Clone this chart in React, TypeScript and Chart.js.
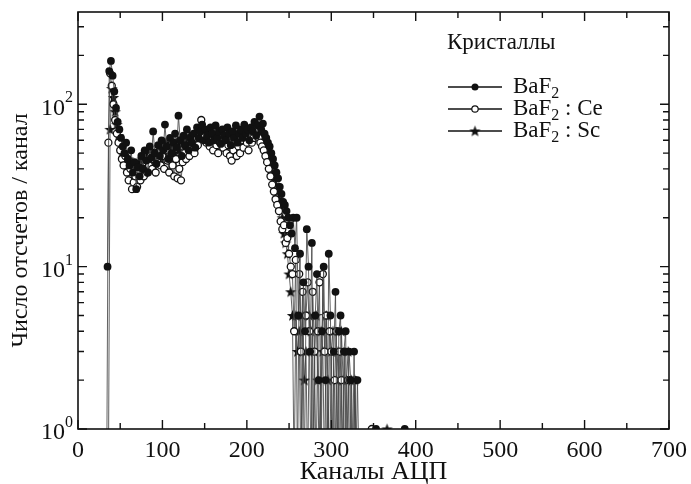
import React, { useEffect, useRef } from "react";
import { Chart, registerables } from "chart.js";

Chart.register(...registerables);

// ---- data ----
const legendTitle = "Кристаллы";
const xTitle = "Каналы АЦП";
const yTitle = "Число отсчетов / канал";
const seriesBase = ["BaF", "BaF", "BaF"];
const seriesSuffix = ["", " : Ce", " : Sc"];
const startChannel = [35, 34, 36];
const channelStep = 2;
const xTickValues = [0, 100, 200, 300, 400, 500, 600, 700];
const yDecades = [1, 10, 100];
const xMin = 0;
const xMax = 700;
const yMin = 1;
const yMax = 370;
const zeroFloor = 0.5; // zero counts are drawn below the axis (clipped)

const bafValues = [
  10, 160, 185, 150, 120, 95, 78, 70, 62, 55,
  50, 58, 46, 42, 52, 38, 44, 30, 41, 36,
  48, 40, 52, 45, 38, 55, 47, 68, 50, 43,
  56, 48, 60, 52, 75, 55, 46, 62, 50, 58,
  66, 54, 85, 60, 48, 64, 56, 70, 52, 62,
  58, 66, 54, 72, 62, 68, 75, 60, 70, 64,
  58, 72, 66, 60, 74, 62, 68, 57, 70, 64,
  60, 72, 66, 56, 68, 62, 74, 58, 66, 70,
  62, 75, 66, 70, 60, 72, 68, 78, 64, 74,
  84, 70, 76, 66, 62, 58, 55, 50, 46, 42,
  38, 35, 31, 28, 25, 24, 22, 20, 18, 16,
  20, 13, 20, 5, 12, 0, 8, 4, 17, 10,
  3, 14, 0, 5, 9, 2, 0, 4, 10, 2,
  0, 12, 5, 0, 3, 7, 0, 4, 5, 0,
  3, 4, 0, 3, 2, 0, 3, 0, 2, 0,
  0, 0, 0, 0, 0, 0, 0, 0, 0, 1,
  0, 0, 0, 0, 0, 0, 0, 0, 0, 0,
  0, 0, 0, 0, 0, 0, 1, 0, 0, 0,
];

const ceValues = [
  0, 58, 155, 130, 100, 80, 66, 58, 52, 46,
  42, 48, 38, 34, 40, 30, 33, 36, 31, 38,
  34, 40, 36, 44, 38, 42, 48, 40, 46, 38,
  44, 50, 42, 48, 40, 52, 45, 38, 48, 42,
  36, 46, 35, 40, 34, 44, 50, 46, 55, 48,
  52, 58, 50, 62, 56, 66, 80, 70, 64, 58,
  62, 55, 66, 52, 60, 56, 50, 58, 62, 54,
  60, 50, 56, 48, 45, 52, 58, 48, 55, 50,
  60, 54, 62, 58, 52, 66, 58, 62, 70, 64,
  62, 58, 55, 52, 48, 44, 40, 36, 32, 29,
  26, 24, 22, 19, 17, 18, 14, 15, 12, 10,
  9, 4, 11, 0, 9, 3, 7, 0, 5, 8,
  4, 0, 7, 3, 0, 4, 8, 0, 9, 3,
  5, 0, 4, 3, 0, 2, 4, 0, 3, 2,
  0, 3, 0, 2, 2, 0, 0, 2, 0, 0,
  0, 0, 0, 0, 0, 0, 0, 1, 0, 0,
  0, 0, 0, 0, 0, 0, 0, 0, 0, 0,
  0, 0, 0, 0, 0, 0, 0, 0, 0, 0,
];

const scValues = [
  0, 70, 125, 110, 90, 75, 64, 56, 50, 46,
  44, 40, 46, 38, 42, 35, 40, 37, 44, 41,
  46, 42, 50, 44, 48, 52, 45, 50, 44, 48,
  52, 46, 55, 50, 58, 48, 53, 46, 56, 50,
  54, 60, 52, 57, 62, 55, 60, 54, 64, 58,
  62, 57, 66, 60, 64, 70, 62, 68, 60, 65,
  58, 64, 60, 66, 56, 62, 58, 64, 60, 55,
  62, 58, 64, 56, 60, 66, 58, 63, 68, 60,
  66, 62, 70, 64, 68, 62, 72, 66, 74, 70,
  68, 64, 60, 55, 52, 46, 42, 38, 35, 32,
  29, 26, 23, 20, 16, 14, 12, 9, 7, 5,
  0, 5, 3, 4, 0, 5, 2, 3, 0, 5,
  4, 0, 3, 5, 2, 0, 4, 3, 0, 5,
  2, 0, 3, 4, 0, 2, 3, 0, 4, 2,
  0, 2, 3, 0, 2, 0, 2, 0, 0, 0,
  0, 0, 0, 0, 0, 0, 0, 0, 0, 0,
  0, 0, 0, 0, 0, 1, 0, 0, 0, 0,
  0, 0, 0, 0, 0, 0, 0, 0, 0, 0,
];

const allValues = [bafValues, ceValues, scValues];

const SERIF = '"Liberation Serif", "Times New Roman", serif';

function makeStar(): HTMLCanvasElement {
  const c = document.createElement("canvas");
  c.width = 13;
  c.height = 13;
  const g = c.getContext("2d")!;
  g.fillStyle = "#111";
  g.beginPath();
  const cx = 6.5, cy = 6.9, R = 6, r = 2.5;
  for (let k = 0; k < 10; k++) {
    const rad = k % 2 === 0 ? R : r;
    const a = -Math.PI / 2 + (k * Math.PI) / 5;
    const px = cx + rad * Math.cos(a);
    const py = cy + rad * Math.sin(a);
    if (k === 0) g.moveTo(px, py);
    else g.lineTo(px, py);
  }
  g.closePath();
  g.fill();
  return c;
}

function drawMarker(ctx: CanvasRenderingContext2D, idx: number, x: number, y: number, star: HTMLCanvasElement) {
  ctx.save();
  if (idx === 0) {
    ctx.fillStyle = "#111";
    ctx.beginPath();
    ctx.arc(x, y, 3.5, 0, Math.PI * 2);
    ctx.fill();
  } else if (idx === 1) {
    ctx.fillStyle = "#fff";
    ctx.strokeStyle = "#111";
    ctx.lineWidth = 1.2;
    ctx.beginPath();
    ctx.arc(x, y, 3.2, 0, Math.PI * 2);
    ctx.fill();
    ctx.stroke();
  } else {
    ctx.drawImage(star, x - star.width / 2, y - star.height / 2);
  }
  ctx.restore();
}

export default function App() {
  const ref = useRef<HTMLCanvasElement | null>(null);

  useEffect(() => {
    if (!ref.current) return;
    const star = makeStar();

    const datasets = allValues.map((vals, si) => ({
      label: seriesBase[si] + "2" + seriesSuffix[si],
      data: vals.map((v, i) => ({ x: startChannel[si] + i * channelStep, y: v > 0 ? v : zeroFloor })),
      borderColor: "rgba(70,70,70,0.85)",
      borderWidth: 1,
      fill: false,
      tension: 0,
      clip: { left: 6, top: 6, right: 6, bottom: 0 },
      order: si === 0 ? 0 : si === 1 ? 1 : 2,
      pointStyle: si === 2 ? star : "circle",
      pointRadius: (c: any) => (c.raw && c.raw.y >= 1 ? (si === 1 ? 3.5 : 3.9) : 0),
      pointBackgroundColor: si === 1 ? "#ffffff" : "#111111",
      pointBorderColor: "#111111",
      pointBorderWidth: si === 1 ? 1.3 : 0,
    }));

    const framePlugin = {
      id: "frame",
      afterDraw(chart: any) {
        const ctx: CanvasRenderingContext2D = chart.ctx;
        const { left, right, top, bottom } = chart.chartArea;
        const xs = chart.scales.x;
        const ys = chart.scales.y;
        ctx.save();
        ctx.strokeStyle = "#111";
        ctx.lineWidth = 1.6;
        ctx.strokeRect(left, top, right - left, bottom - top);

        // x ticks
        ctx.lineWidth = 1.4;
        for (let v = xMin; v <= xMax; v += 50) {
          const px = xs.getPixelForValue(v);
          const len = v % 100 === 0 ? 9 : 6;
          ctx.beginPath();
          ctx.moveTo(px, bottom);
          ctx.lineTo(px, bottom - len);
          ctx.moveTo(px, top);
          ctx.lineTo(px, top + len);
          ctx.stroke();
        }
        // y ticks
        for (const d of yDecades) {
          for (let m = 1; m <= 9; m++) {
            const v = d * m;
            if (v > yMax) break;
            const py = ys.getPixelForValue(v);
            const len = m === 1 ? 9 : 6;
            ctx.beginPath();
            ctx.moveTo(left, py);
            ctx.lineTo(left + len, py);
            ctx.moveTo(right, py);
            ctx.lineTo(right - len, py);
            ctx.stroke();
          }
        }

        ctx.fillStyle = "#111";
        // x tick labels
        ctx.font = `24px ${SERIF}`;
        ctx.textAlign = "center";
        ctx.textBaseline = "middle";
        for (const v of xTickValues) {
          ctx.fillText(String(v), xs.getPixelForValue(v), bottom + 22);
        }
        // y tick labels 10^n
        for (const d of yDecades) {
          const py = ys.getPixelForValue(d);
          const exp = String(Math.round(Math.log10(d)));
          ctx.font = `16px ${SERIF}`;
          const ew = ctx.measureText(exp).width;
          ctx.textAlign = "right";
          ctx.textBaseline = "middle";
          ctx.fillText(exp, left - 5, py - 6);
          ctx.font = `24px ${SERIF}`;
          ctx.fillText("10", left - 5 - ew, py + 4);
        }
        // axis titles
        ctx.font = `26px ${SERIF}`;
        ctx.textAlign = "center";
        ctx.textBaseline = "middle";
        ctx.fillText(xTitle, (left + right) / 2, bottom + 43);
        ctx.font = `24px ${SERIF}`;
        ctx.save();
        ctx.translate(21, (top + bottom) / 2 + 10);
        ctx.rotate(-Math.PI / 2);
        ctx.fillText(yTitle, 0, 0);
        ctx.restore();

        // legend
        ctx.textAlign = "left";
        ctx.textBaseline = "middle";
        ctx.font = `23px ${SERIF}`;
        ctx.fillText(legendTitle, 447, 43);
        const rows = [87, 109, 131];
        for (let si = 0; si < 3; si++) {
          const y = rows[si];
          ctx.strokeStyle = "#111";
          ctx.lineWidth = 1.4;
          ctx.beginPath();
          ctx.moveTo(448, y);
          ctx.lineTo(502, y);
          ctx.stroke();
          drawMarker(ctx, si, 475, y, star);
          ctx.font = `23px ${SERIF}`;
          let x = 513;
          ctx.fillText(seriesBase[si], x, y);
          x += ctx.measureText(seriesBase[si]).width;
          ctx.font = `16px ${SERIF}`;
          ctx.fillText("2", x, y + 7);
          x += ctx.measureText("2").width;
          if (seriesSuffix[si]) {
            ctx.font = `23px ${SERIF}`;
            ctx.fillText(seriesSuffix[si], x, y);
          }
        }
        ctx.restore();
      },
    };

    const chart = new Chart(ref.current, {
      type: "line",
      data: { datasets: datasets as any },
      options: {
        animation: false,
        responsive: false,
        maintainAspectRatio: false,
        layout: { padding: { left: 78, right: 22, top: 12, bottom: 55 } },
        plugins: { legend: { display: false }, tooltip: { enabled: false } },
        scales: {
          x: { type: "linear", min: xMin, max: xMax, display: false },
          y: { type: "logarithmic", min: yMin, max: yMax, display: false },
        },
      },
      plugins: [framePlugin],
    });
    return () => chart.destroy();
  }, []);

  return (
    <div style={{ position: "fixed", left: 0, top: 0, width: 691, height: 484, background: "#fff" }}>
      <canvas ref={ref} width={691} height={484} style={{ width: 691, height: 484 }} />
    </div>
  );
}
